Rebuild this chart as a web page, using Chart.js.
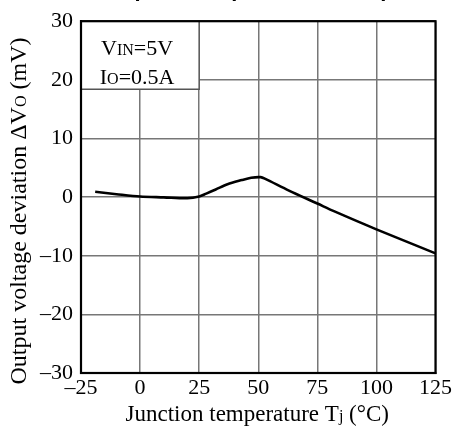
<!DOCTYPE html>
<html>
<head>
<meta charset="utf-8">
<script src="https://cdn.jsdelivr.net/npm/chart.js@4.4.1/dist/chart.umd.min.js"></script>
<style>
  html, body { margin: 0; padding: 0; background: #fff; overflow: hidden; }
  #wrap { position: relative; width: 454px; height: 432px; overflow: hidden; }
  #title { position: absolute; left: 91px; top: -22px; font: bold 22px "Liberation Sans", Arial, sans-serif; line-height: 22px; white-space: nowrap; color: #000; }
  canvas { position: absolute; left: 0; top: 0; }
</style>
</head>
<body>
<div id="wrap">
  <canvas id="c" width="454" height="432"></canvas>
  <div id="title">Temperature (ΔVOUT vs. TJ)</div>
</div>
<script>
// Data
const temperatures = [-19, -10, 0, 10, 20, 25, 28, 32, 37, 43, 47, 51, 53, 63, 75, 82, 100, 125];
const deviations   = [0.9, 0.5, 0.1, -0.05, -0.2, 0.1, 0.6, 1.3, 2.2, 2.9, 3.3, 3.4, 3.1, 1.1, -1.1, -2.4, -5.5, -9.6];
const xTicks = [-25, 0, 25, 50, 75, 100, 125];
const yTicks = [-30, -20, -10, 0, 10, 20, 30];
const yTitleParts = [["Output voltage deviation ΔV", false], ["O", true], [" (mV)", false]];
const xTitleParts = [["Junction temperature T", false], ["j", true], [" (°C)", false]];
const insetLines = [[["V", false], ["IN", true], ["=5V", false]], [["I", false], ["O", true], ["=0.5A", false]]];

const SERIF = '"Liberation Serif", "Times New Roman", serif';

function drawParts(ctx, parts, size, cx, cy, subScale) {
  const big = size + 'px ' + SERIF;
  const small = Math.round(size * (subScale || 0.68)) + 'px ' + SERIF;
  let total = 0;
  parts.forEach(p => { ctx.font = p[1] ? small : big; total += ctx.measureText(p[0]).width; });
  let x = cx - total / 2;
  ctx.textBaseline = 'alphabetic';
  ctx.textAlign = 'left';
  parts.forEach(p => {
    ctx.font = p[1] ? small : big;
    ctx.fillText(p[0], x, cy);
    x += ctx.measureText(p[0]).width;
  });
}

const decor = {
  id: 'decor',
  beforeDatasetsDraw(chart) {
    const {ctx, chartArea: a, scales: {x, y}} = chart;
    ctx.save();
    // inset box
    const bx = x.getPixelForValue(25);
    const by = y.getPixelForValue(18.4);
    ctx.fillStyle = '#fff';
    ctx.fillRect(a.left, a.top, bx - a.left, by - a.top);
    ctx.strokeStyle = '#555';
    ctx.lineWidth = 1.5;
    ctx.beginPath();
    ctx.moveTo(a.left, by); ctx.lineTo(bx, by); ctx.lineTo(bx, a.top);
    ctx.stroke();
    ctx.fillStyle = '#000';
    const cx = (a.left + bx) / 2 - 3;
    drawParts(ctx, insetLines[0], 22, cx, a.top + 34, 0.72);
    drawParts(ctx, insetLines[1], 22, cx, a.top + 63, 0.72);
    ctx.restore();
  },
  afterDraw(chart) {
    const {ctx, chartArea: a} = chart;
    ctx.save();
    ctx.strokeStyle = '#000';
    ctx.lineWidth = 2.2;
    ctx.strokeRect(a.left, a.top, a.right - a.left, a.bottom - a.top);
    ctx.fillStyle = '#000';
    drawParts(ctx, xTitleParts, 23, (a.left + a.right) / 2 - 1, 421);
    ctx.translate(26, 211);
    ctx.rotate(-Math.PI / 2);
    drawParts(ctx, yTitleParts, 24, 0, 0);
    ctx.restore();
  }
};

new Chart(document.getElementById('c'), {
  type: 'line',
  data: {
    datasets: [{
      data: temperatures.map((t, i) => ({x: t, y: deviations[i]})),
      borderColor: '#000',
      borderWidth: 2.6,
      pointRadius: 0,
      tension: 0.3,
      fill: false
    }]
  },
  options: {
    responsive: false,
    animation: false,
    devicePixelRatio: 1,
    layout: { padding: { left: 0, top: 16, right: 18, bottom: 0 } },
    plugins: { legend: { display: false }, tooltip: { enabled: false }, title: { display: false } },
    scales: {
      x: {
        type: 'linear', min: -25, max: 125,
        afterBuildTicks: s => { s.ticks = xTicks.map(v => ({value: v})); },
        afterFit: s => { s.height = 59; },
        grid: { color: '#777', lineWidth: 1.5, drawTicks: false },
        border: { color: '#000', width: 2 },
        ticks: { color: '#000', padding: 2, font: { family: SERIF, size: 22 }, maxRotation: 0, callback: v => (v < 0 ? '\u2013' + Math.abs(v) : String(v)) }
      },
      y: {
        type: 'linear', min: -30, max: 30,
        afterBuildTicks: s => { s.ticks = yTicks.map(v => ({value: v})); },
        afterFit: s => { s.width = 81; },
        grid: { color: '#777', lineWidth: 1.5, drawTicks: false },
        border: { color: '#000', width: 2 },
        ticks: { color: '#000', padding: 8, font: { family: SERIF, size: 22 }, callback: v => (v < 0 ? '\u2013' + Math.abs(v) : String(v)) }
      }
    }
  },
  plugins: [decor]
});
</script>
</body>
</html>
